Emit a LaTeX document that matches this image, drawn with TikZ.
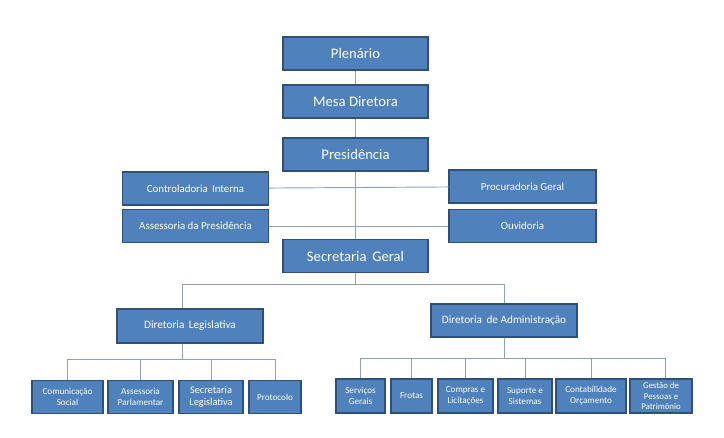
\documentclass[tikz,border=0pt]{standalone}
\usepackage{fontspec}
\setmainfont{Carlito}
\usepackage{xcolor}
\usetikzlibrary{positioning}
\definecolor{boxblue}{RGB}{79,129,189}
\definecolor{boxedge}{RGB}{48,80,122}
\definecolor{linkgray}{RGB}{140,162,188}

\tikzset{
  orgbox/.style={draw=boxedge, fill=boxblue, line width=1.2pt, text=white, align=center, inner sep=1pt},
  bigbox/.style={orgbox, minimum width=4.35cm, minimum height=0.99cm, font=\fontsize{12.5}{14}\selectfont},
  midbox/.style={orgbox, minimum width=4.38cm, minimum height=0.98cm, font=\fontsize{9.3}{11}\selectfont},
  smallbox/.style={orgbox, minimum height=0.98cm, font=\fontsize{7.8}{9.4}\selectfont},
  link/.style={draw=linkgray, line width=0.8pt}
}

\begin{document}
\begin{tikzpicture}[x=0.03cm, y=-0.03cm]
	\useasboundingbox (0,0) rectangle (724,437);
	
	% upper chain
	\node[bigbox] (plen) at (355.5,53.5) {Plenário};
	\node[bigbox] (mesa) at (355.5,101.5) {Mesa Diretora};
	\node[bigbox] (pres) at (355.5,154.5) {Presidência};
	\node[bigbox] (secg) at (355.5,256) {Secretaria\, Geral};
	
	% side offices
	\node[midbox] (ctrl) at (195.5,188.5) {Controladoria\, Interna};
	\node[midbox, minimum width=4.41cm] (proc) at (522.5,186.5) {Procuradoria Geral};
	\node[midbox] (asse) at (195.5,226) {Assessoria da Presidência};
	\node[midbox, minimum width=4.41cm] (ouvi) at (522.5,226) {Ouvidoria};
	
	% directorates
	\node[midbox, minimum width=4.38cm, minimum height=1.02cm, font=\fontsize{9.6}{11}\selectfont] (dleg) at (190,326) {Diretoria\, Legislativa};
	\node[midbox, minimum width=4.38cm, minimum height=0.99cm, font=\fontsize{9.6}{11}\selectfont] (dadm) at (504,320.5) {Diretoria\, de Administração};
	
	% legislative units
	\node[smallbox, minimum width=2.13cm] (coms) at (67.5,397) {Comunicação\\Social};
	\node[smallbox, minimum width=1.95cm] (assp) at (140.5,397) {Assessoria\\Parlamentar};
	\node[smallbox, minimum width=1.92cm, font=\fontsize{8.8}{10.4}\selectfont] (secl) at (211,397) {Secretaria\\Legislativa};
	\node[smallbox, minimum width=1.56cm] (prot) at (275,397) {Protocolo};
	
	% administrative units
	\node[smallbox, minimum width=1.47cm, minimum height=1.02cm] (serv) at (360.5,396) {Serviços\\Gerais};
	\node[smallbox, minimum width=1.23cm, minimum height=1.02cm] (frot) at (411.5,396) {Frotas};
	\node[smallbox, minimum width=1.65cm, minimum height=1.02cm] (comp) at (465.5,396) {Compras e\\Licitações};
	\node[smallbox, minimum width=1.62cm, minimum height=1.02cm] (supo) at (525,396) {Suporte e\\Sistemas};
	\node[smallbox, minimum width=2.1cm, minimum height=1.02cm] (cont) at (591,396) {Contabilidade\\Orçamento};
	\node[smallbox, minimum width=1.86cm, minimum height=1.02cm, font=\fontsize{7.5}{8.6}\selectfont] (gest) at (661,396) {Gestão de\\Pessoas e\\Patrimônio};
	
	% connectors
	\draw[link] (plen) -- (mesa);
	\draw[link] (mesa) -- (pres);
	\draw[link] (pres) -- (secg);
	\draw[link] (ctrl) -- (proc);
	\draw[link] (asse) -- (ouvi);
	\coordinate (dlegtop) at ([xshift=-0.24cm]dleg.north);
	\coordinate (dlegbot) at ([xshift=-0.24cm]dleg.south);
	\draw[link] (secg.south) -- ++(0,11) -| (dlegtop);
	\draw[link] (secg.south) -- ++(0,11) -| (dadm.north);
	\foreach \u in {coms,assp,secl,prot}
		\draw[link] (dlegbot) -- ++(0,16) -| (\u.north);
	\foreach \u in {serv,frot,comp,supo,cont}
		\draw[link] (dadm.south) -- ++(0,21) -| (\u.north);
	\draw[link] (dadm.south) -- ++(0,21) -| ([xshift=0.12cm]gest.north);
\end{tikzpicture}
\end{document}
